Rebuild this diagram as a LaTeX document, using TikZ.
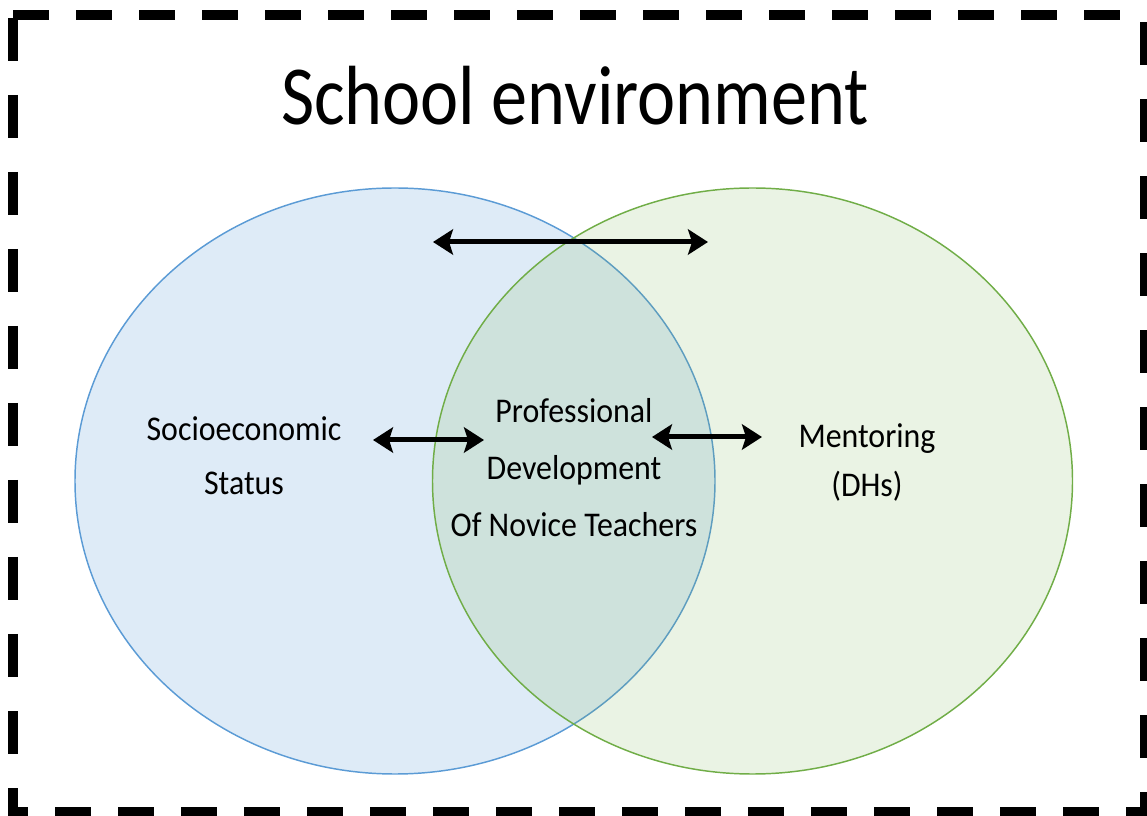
\documentclass[tikz,border=0pt]{standalone}
\usepackage{fontspec}
\setmainfont{Carlito}[FakeStretch=0.92]
\newfontfamily\headfont{Carlito}[FakeStretch=0.86]
\usetikzlibrary{arrows.meta}

\definecolor{ringblue}{RGB}{91,155,213}
\definecolor{ringgreen}{RGB}{112,173,71}

\tikzset{
  borderline/.style={line width=7.5pt},
  hdash/.style={dash pattern=on 27pt off 20.25pt},
  vdash/.style={dash pattern=on 32.25pt off 25.5pt},
  twoway/.style={line width=3.75pt,
    {Stealth[length=15pt,width=19pt,inset=3pt]}-{Stealth[length=15pt,width=19pt,inset=3pt]}},
  venntext/.style={align=center, inner sep=0pt, anchor=base}
}

\begin{document}
\begin{tikzpicture}[x=0.75pt,y=0.75pt,yscale=-1,xscale=1]
\useasboundingbox (0,0) rectangle (1147,816);

%Dashed frame, one side at a time
\draw [borderline,hdash] (13,15.5) -- (1147,15.5) ;
\draw [borderline,vdash] (13,18) -- (13,816) ;
\draw [borderline,vdash] (1145,22) -- (1145,816) ;
\draw [borderline,hdash,dash phase=15.75pt] (13,812) -- (1147,812) ;

%Circles
\draw [ringblue, line width=1.1pt, fill=ringblue, fill opacity=0.2] (395,481) ellipse [x radius=320, y radius=293] ;
\draw [ringgreen, line width=1.1pt, fill=ringgreen, fill opacity=0.15] (752.5,481) ellipse [x radius=320, y radius=293] ;

% Text Node (base = last line)
\node (title) [venntext, font=\headfont\fontsize{63}{63}\selectfont] at (575,125) {School environment};
% Text Node
\node (ses) [venntext, font=\fontsize{26}{41}\selectfont] at (244,495) {Socioeconomic\\Status};
% Text Node
\node (pdnt) [venntext, font=\fontsize{26}{43}\selectfont] at (574,537) {Professional\\Development\\Of Novice Teachers};
% Text Node
\node (mentor) [venntext, font=\fontsize{26}{37}\selectfont] at (867,497) {Mentoring\\(DHs)};

%Arrows
\coordinate (topL) at (433,242) ;
\coordinate (topR) at (708,242) ;
\coordinate (sesR) at (373,440) ;
\coordinate (pdntL) at (484,440) ;
\coordinate (pdntR) at (652,437) ;
\coordinate (mentorL) at (762,437) ;
\draw [twoway] (topL) -- (topR) ;
\draw [twoway] (sesR) -- (pdntL) ;
\draw [twoway] (pdntR) -- (mentorL) ;

\end{tikzpicture}
\end{document}
